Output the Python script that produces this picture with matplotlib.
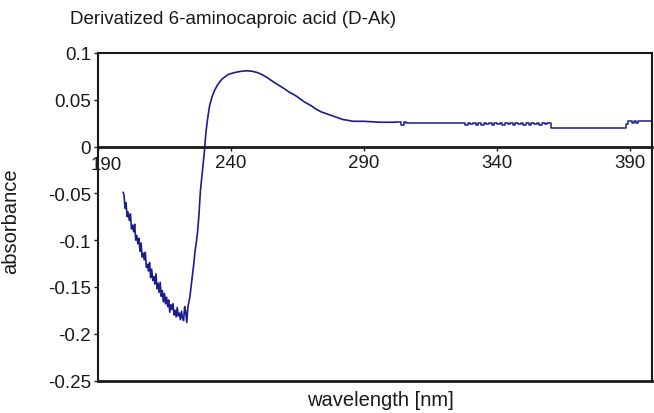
import matplotlib
matplotlib.use("Agg")
import matplotlib.pyplot as plt
import matplotlib.transforms as mtransforms
import numpy as np

plt.rcParams['font.family'] = ['Liberation Sans', 'DejaVu Sans']
plt.rcParams['axes.unicode_minus'] = False

# spectrum: wavelength [nm] and absorbance, UV part (noisy band + peak)
wl_uv = [199.5, 199.8, 200.2, 200.5, 201, 201.3, 201.8, 202.2, 202.6, 203,
         203.4, 203.8, 204.2, 204.6, 205, 205.4, 205.8, 206.2, 206.6, 207,
         207.4, 207.8, 208.2, 208.6, 209, 209.4, 209.8, 210.2, 210.6, 211,
         211.4, 211.8, 212.2, 212.6, 213, 213.4, 213.8, 214.2, 214.6, 215,
         215.4, 215.8, 216.2, 216.6, 217, 217.4, 217.8, 218.2, 218.6, 219,
         219.4, 219.8, 220.2, 220.6, 221, 221.4, 221.8, 222.2, 222.6, 223,
         223.4, 223.8, 224.2, 224.6, 225, 225.5, 226, 226.5, 227, 227.5,
         228, 228.5, 229, 229.5, 230, 230.3, 230.6, 231, 231.5, 232, 233,
         234, 235, 236, 237, 238, 239, 240, 242, 244, 246, 248, 250, 252,
         254, 256, 258, 260, 262, 264, 266, 268, 270, 272, 274, 276, 278,
         280, 282, 284, 286, 290, 296, 302]
abs_uv = [-0.049, -0.052, -0.066, -0.060, -0.075, -0.070, -0.079, -0.072,
          -0.088, -0.084, -0.091, -0.083, -0.100, -0.095, -0.104, -0.098,
          -0.112, -0.103, -0.118, -0.114, -0.121, -0.113, -0.129, -0.126,
          -0.133, -0.124, -0.140, -0.131, -0.143, -0.139, -0.147, -0.136,
          -0.152, -0.146, -0.156, -0.145, -0.160, -0.154, -0.166, -0.157,
          -0.168, -0.161, -0.171, -0.164, -0.177, -0.169, -0.174, -0.168,
          -0.180, -0.175, -0.182, -0.172, -0.181, -0.178, -0.185, -0.176,
          -0.183, -0.186, -0.171, -0.177, -0.188, -0.172, -0.166, -0.160,
          -0.150, -0.138, -0.126, -0.112, -0.102, -0.090, -0.072, -0.048,
          -0.034, -0.020, -0.006, 0.005, 0.015, 0.025, 0.035, 0.044, 0.054,
          0.061, 0.066, 0.070, 0.073, 0.075, 0.077, 0.078, 0.0795, 0.0805,
          0.081, 0.0805, 0.079, 0.0765, 0.073, 0.069, 0.0655, 0.062, 0.058,
          0.055, 0.051, 0.047, 0.044, 0.040, 0.037, 0.035, 0.033, 0.031,
          0.029, 0.028, 0.027, 0.027, 0.026, 0.026]

# visible part, digitised in steps
wl_vis = [302, 304, 305, 306, 307, 308, 309, 310, 311, 312, 313, 314, 315,
          316, 317, 318, 319, 320, 321, 322, 323, 324, 325, 326, 327, 328,
          329, 330, 331, 332, 333, 334, 335, 336, 337, 338, 339, 340, 341,
          342, 343, 344, 345, 346, 347, 348, 349, 350, 351, 352, 353, 354,
          355, 356, 357, 358, 359, 360.5, 388.5, 389.2, 391, 391.6, 392.4,
          393, 394, 398.3]
abs_vis = [0.026, 0.0235, 0.026, 0.025, 0.0255, 0.025, 0.0255, 0.025, 0.0255,
           0.025, 0.0255, 0.025, 0.0255, 0.025, 0.0255, 0.025, 0.0255,
           0.025, 0.0255, 0.025, 0.0255, 0.025, 0.0255, 0.025, 0.0255,
           0.0235, 0.0255, 0.024, 0.0255, 0.0235, 0.025, 0.0235, 0.0255,
           0.024, 0.0255, 0.0235, 0.0255, 0.024, 0.025, 0.0235, 0.0255,
           0.024, 0.0255, 0.0235, 0.0255, 0.024, 0.0255, 0.0235, 0.025,
           0.0235, 0.0255, 0.024, 0.0255, 0.0235, 0.0255, 0.024, 0.0255,
           0.020, 0.0245, 0.027, 0.0255, 0.027, 0.0255, 0.027, 0.027, 0.027]

x_ticks = [190, 240, 290, 340, 390]
y_ticks = [0.1, 0.05, 0, -0.05, -0.1, -0.15, -0.2, -0.25]

fig = plt.figure(figsize=(6.54, 4.14), dpi=100)
ax = fig.add_axes([0.1498, 0.0785, 0.847, 0.7911])

ax.plot(wl_uv, abs_uv, color='#1c1c8c', lw=1.2)
ax.plot(wl_vis, abs_vis, color='#1c1c8c', lw=1.1, drawstyle='steps-post')

ax.set_xlim(190, 398.3)
ax.set_ylim(-0.25, 0.1)
ax.set_xticks(x_ticks)
ax.set_yticks(y_ticks)
ax.set_yticklabels(['%g' % v for v in y_ticks])

# x axis runs through zero, box closed below
ax.spines['bottom'].set_position(('data', 0))
ax.spines['bottom'].set_linewidth(2.0)
for s in ['top', 'left', 'right']:
    ax.spines[s].set_linewidth(1.5)
for s in ax.spines.values():
    s.set_color('#1a1a1a')
ax.plot([0, 1], [0, 0], transform=ax.transAxes, color='#1a1a1a', lw=2.0,
        clip_on=False)

ax.tick_params(axis='both', labelsize=13.5, colors='#1a1a1a', length=3,
               width=1)
ax.tick_params(axis='x', pad=2)
ax.tick_params(axis='y', pad=2)

# first x label sits clear of the "0" on the y axis
lbl = ax.get_xticklabels()[0]
lbl.set_transform(lbl.get_transform() +
                  mtransforms.ScaledTranslation(0.08, -0.02, fig.dpi_scale_trans))

ax.set_xlabel('wavelength [nm]', fontsize=14.5, color='#1a1a1a')
ax.xaxis.set_label_coords(0.509, -0.03)
ax.xaxis.label.set_verticalalignment('top')
ax.set_ylabel('absorbance', fontsize=14.5, color='#1a1a1a')
ax.yaxis.set_label_coords(-0.141, 0.49)

fig.text(70 / 654, 1 - 20 / 414, 'Derivatized 6-aminocaproic acid (D-Ak)',
         fontsize=13.5, ha='left', va='center', color='#1a1a1a')

fig.savefig('out.png', dpi=100)
